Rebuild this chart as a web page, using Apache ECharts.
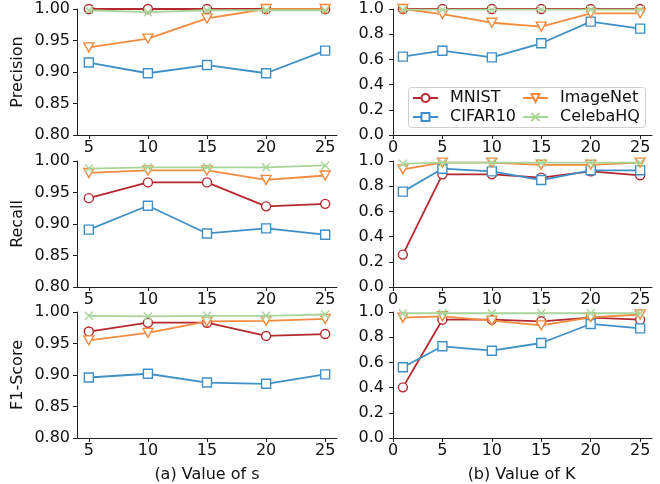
<!DOCTYPE html>
<html><head><meta charset="utf-8">
<script src="https://cdn.jsdelivr.net/npm/echarts@6/dist/echarts.min.js"></script>
<style>html,body{margin:0;padding:0;background:#fff}#c{width:660px;height:484px}</style>
</head><body><div id="c"></div>
<script>
const datasets = ['MNIST', 'CIFAR10', 'ImageNet', 'CelebaHQ'];
const sValues = [5, 10, 15, 20, 25];
const kValues = [1, 5, 10, 15, 20, 25];
const sTicks = [5, 10, 15, 20, 25];
const kTicks = [0, 5, 10, 15, 20, 25];
const metrics = ['Precision', 'Recall', 'F1-Score'];

// Value of s
const precS_MNIST    = [1.000, 1.000, 1.000, 1.000, 1.000];
const precS_CIFAR10  = [0.915, 0.898, 0.911, 0.898, 0.934];
const precS_ImageNet = [0.939, 0.953, 0.985, 1.000, 1.000];
const precS_CelebaHQ = [0.998, 0.995, 0.998, 0.998, 0.998];

const recS_MNIST    = [0.941, 0.966, 0.966, 0.928, 0.932];
const recS_CIFAR10  = [0.891, 0.929, 0.885, 0.893, 0.883];
const recS_ImageNet = [0.981, 0.985, 0.985, 0.970, 0.977];
const recS_CelebaHQ = [0.988, 0.990, 0.990, 0.990, 0.993];

const f1S_MNIST    = [0.969, 0.983, 0.983, 0.962, 0.965];
const f1S_CIFAR10  = [0.896, 0.902, 0.888, 0.886, 0.901];
const f1S_ImageNet = [0.955, 0.967, 0.985, 0.986, 0.989];
const f1S_CelebaHQ = [0.994, 0.993, 0.994, 0.994, 0.996];

// Value of K
const precK_MNIST    = [1.000, 1.000, 1.000, 1.000, 1.000, 1.000];
const precK_CIFAR10  = [0.622, 0.669, 0.616, 0.728, 0.900, 0.844];
const precK_ImageNet = [1.000, 0.960, 0.891, 0.860, 0.966, 0.966];
const precK_CelebaHQ = [0.995, 0.995, 0.995, 0.995, 0.995, 0.995];

const recK_MNIST    = [0.257, 0.894, 0.894, 0.868, 0.918, 0.886];
const recK_CIFAR10  = [0.757, 0.939, 0.918, 0.849, 0.926, 0.926];
const recK_ImageNet = [0.934, 0.987, 0.987, 0.970, 0.970, 0.987];
const recK_CelebaHQ = [0.979, 0.987, 0.987, 0.987, 0.987, 0.987];

const f1K_MNIST    = [0.402, 0.939, 0.939, 0.926, 0.955, 0.939];
const f1K_CIFAR10  = [0.561, 0.728, 0.693, 0.754, 0.905, 0.870];
const f1K_ImageNet = [0.955, 0.966, 0.931, 0.894, 0.958, 0.980];
const f1K_CelebaHQ = [0.990, 0.990, 0.990, 0.990, 0.990, 0.990];

const panelS = [
  [precS_MNIST, precS_CIFAR10, precS_ImageNet, precS_CelebaHQ],
  [recS_MNIST, recS_CIFAR10, recS_ImageNet, recS_CelebaHQ],
  [f1S_MNIST, f1S_CIFAR10, f1S_ImageNet, f1S_CelebaHQ]
];
const panelK = [
  [precK_MNIST, precK_CIFAR10, precK_ImageNet, precK_CelebaHQ],
  [recK_MNIST, recK_CIFAR10, recK_ImageNet, recK_CelebaHQ],
  [f1K_MNIST, f1K_CIFAR10, f1K_ImageNet, f1K_CelebaHQ]
];

const colors = ['#b5282e', '#3f8fc7', '#f28a3f', '#a8d59a'];
const symbols = ['circle', 'rect', 'path://M0,0 L10,0 L5,9 Z', 'path://M0,0 L10,10 M10,0 L0,10'];
const symSizes = [9, 9, [10, 9], 8];

const FONT = 'DejaVu Sans';
const FS = 16;
const tops = [9, 161, 312];
const H = 126;

const grids = [], xAxes = [], yAxes = [], series = [];
const axisLine = {show: true, lineStyle: {color: '#222', width: 1}};
const axisTick = {show: true, length: 4, lineStyle: {color: '#222', width: 1}};

for (let r = 0; r < 3; r++) {
  for (let c = 0; c < 2; c++) {
    const gi = grids.length;
    grids.push({left: c === 0 ? 77 : 391, top: tops[r], width: c === 0 ? 260 : 261, height: H});
    const ticks = c === 0 ? sTicks : kTicks;
    const xa = {
      type: 'value', gridIndex: gi,
      min: c === 0 ? 4 : -0.2, max: c === 0 ? 26 : 26.2,
      splitLine: {show: false}, axisLine: axisLine,
      axisTick: Object.assign({customValues: ticks}, axisTick),
      axisLabel: {customValues: ticks, fontFamily: FONT, fontSize: FS, color: '#111', margin: 5}
    };
    if (r === 2) {
      xa.name = c === 0 ? '(a) Value of s' : '(b) Value of K';
      xa.nameLocation = 'middle';
      xa.nameGap = 29;
      xa.nameTextStyle = {fontFamily: FONT, fontSize: FS, color: '#111'};
    }
    xAxes.push(xa);
    const ya = {
      type: 'value', gridIndex: gi,
      min: c === 0 ? 0.8 : 0, max: 1.0, interval: c === 0 ? 0.05 : 0.2,
      splitLine: {show: false}, axisLine: axisLine, axisTick: axisTick,
      axisLabel: {fontFamily: FONT, fontSize: FS, color: '#111', margin: 7,
        formatter: c === 0 ? (v => v.toFixed(2)) : (v => v.toFixed(1))}
    };
    if (c === 0) {
      ya.name = metrics[r];
      ya.nameLocation = 'middle';
      ya.nameGap = 51;
      ya.nameTextStyle = {fontFamily: FONT, fontSize: FS, color: '#111'};
    }
    yAxes.push(ya);
    const xs = c === 0 ? sValues : kValues;
    const vals = c === 0 ? panelS[r] : panelK[r];
    for (let d = 0; d < 4; d++) {
      const isX = d === 3;
      series.push({
        name: datasets[d], type: 'line', xAxisIndex: gi, yAxisIndex: gi,
        data: xs.map((x, i) => [x, vals[d][i]]),
        symbol: symbols[d], symbolSize: symSizes[d], showAllSymbol: true,
        clip: false, animation: false,
        lineStyle: {color: colors[d], width: 1.8},
        itemStyle: {color: isX ? colors[d] : '#fff', borderColor: colors[d], borderWidth: 1.4},
        emphasis: {disabled: true}, z: 2 + d
      });
    }
  }
}

const legendCommon = {
  orient: 'vertical', itemWidth: 25, itemHeight: 10, itemGap: 3,
  textStyle: {fontFamily: FONT, fontSize: FS, color: '#111', padding: [0, 0, 0, 7]},
  padding: 0, selectedMode: false, z: 30
};

const chart = echarts.init(document.getElementById('c'), null, {renderer: 'canvas'});
chart.setOption({
  backgroundColor: '#fff',
  animation: false,
  grid: grids, xAxis: xAxes, yAxis: yAxes, series: series,
  legend: [
    Object.assign({data: ['MNIST', 'CIFAR10'], left: 412, top: 90}, legendCommon),
    Object.assign({data: ['ImageNet', 'CelebaHQ'], left: 522, top: 90}, legendCommon)
  ],
  graphic: [{
    type: 'rect', shape: {x: 408.5, y: 87.5, width: 237, height: 40, r: 3},
    style: {fill: 'rgba(255,255,255,0.8)', stroke: '#d0d0d0', lineWidth: 1}, z: 15, silent: true
  }]
});
</script></body></html>
